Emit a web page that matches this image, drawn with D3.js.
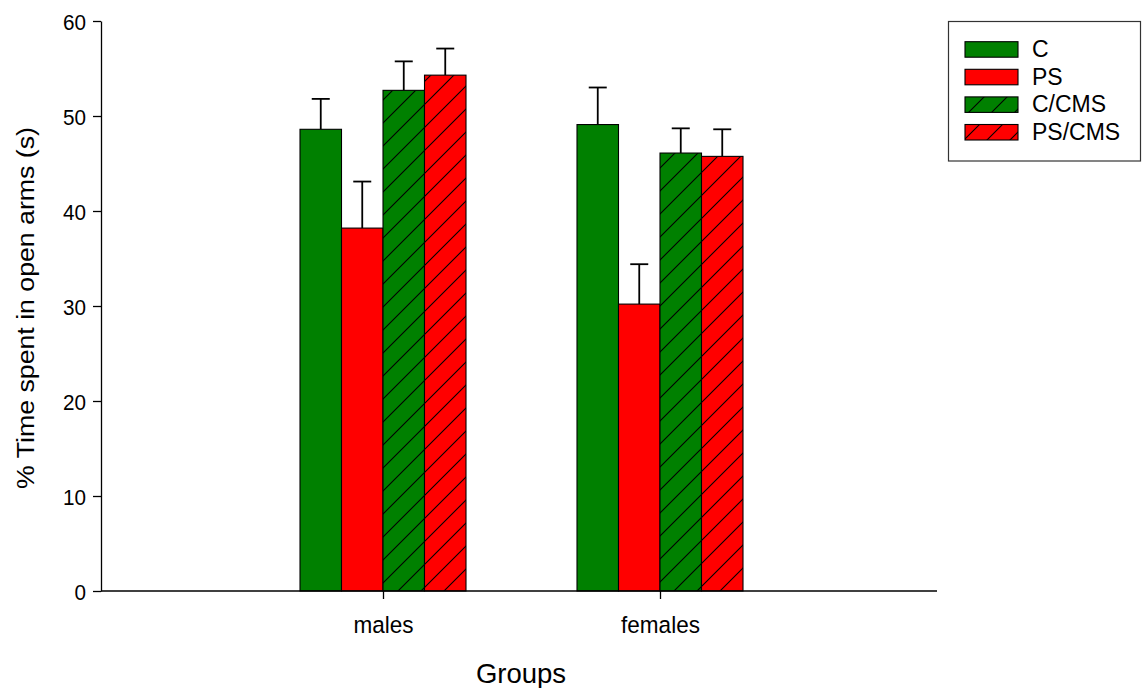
<!DOCTYPE html>
<html>
<head>
<meta charset="utf-8">
<script src="https://cdn.jsdelivr.net/npm/d3@7"></script>
<style>
  html, body { margin: 0; padding: 0; background: #fff; }
  svg { display: block; }
  text { font-family: "Liberation Sans", Arial, sans-serif; fill: #000; }
</style>
</head>
<body>
<svg id="chart" width="1142" height="688"></svg>
<script>
// Groups on the x axis
const groups = ["males", "females"];
// Treatment series
const seriesNames = ["C", "PS", "C/CMS", "PS/CMS"];
// Mean % time spent in open arms per series (males, females)
const valuesC = [48.6, 49.1];
const valuesPS = [38.2, 30.2];
const valuesCCMS = [52.7, 46.1];
const valuesPSCMS = [54.3, 45.75];
// Error (upper whisker length) per series
const errC = [3.2, 3.9];
const errPS = [4.9, 4.2];
const errCCMS = [3.05, 2.6];
const errPSCMS = [2.8, 2.85];
// Y axis ticks
const yTicks = [0, 10, 20, 30, 40, 50, 60];

const seriesValues = [valuesC, valuesPS, valuesCCMS, valuesPSCMS];
const seriesErrors = [errC, errPS, errCCMS, errPSCMS];
const seriesFill = ["#008000", "#ff0000", "#008000", "#ff0000"];
const seriesHatch = [false, false, true, true];

const svg = d3.select("#chart");

// Hatch patterns ("/" diagonals) over green and red
const defs = svg.append("defs");
[["hatch-green", "#008000"], ["hatch-red", "#ff0000"]].forEach(([id, col]) => {
  const s = 23;
  const p = defs.append("pattern")
    .attr("id", id)
    .attr("patternUnits", "userSpaceOnUse")
    .attr("width", s).attr("height", s);
  p.append("rect").attr("width", s).attr("height", s).attr("fill", col);
  p.append("path")
    .attr("d", `M0,${s} L${s},0 M${-s/2},${s/2} L${s/2},${-s/2} M${s/2},${s*1.5} L${s*1.5},${s/2}`)
    .attr("stroke", "#000").attr("stroke-width", 1.1);
});
const fillFor = i => seriesHatch[i]
  ? (seriesFill[i] === "#008000" ? "url(#hatch-green)" : "url(#hatch-red)")
  : seriesFill[i];

// Scales
const x = d3.scalePoint().domain(groups).range([106, 937]).padding(1);
const xInner = d3.scaleBand().domain(seriesNames).range([-83, 83]).padding(0);
const y = d3.scaleLinear().domain([0, 60]).range([591, 21]);

// Bars
const barData = [];
groups.forEach((g, gi) => {
  seriesNames.forEach((s, si) => {
    barData.push({ g, s, si, v: seriesValues[si][gi], e: seriesErrors[si][gi] });
  });
});

const plot = svg.append("g");

// Error bars (drawn beneath bars, only upper whisker visible)
plot.selectAll("g.err").data(barData).join("g").attr("class", "err")
  .each(function(d) {
    const cx = x(d.g) + xInner(d.s) + xInner.bandwidth() / 2;
    const g = d3.select(this);
    g.append("line")
      .attr("x1", cx).attr("x2", cx)
      .attr("y1", y(d.v)).attr("y2", y(d.v + d.e))
      .attr("stroke", "#000").attr("stroke-width", 1.8);
    g.append("line")
      .attr("x1", cx - 9).attr("x2", cx + 9)
      .attr("y1", y(d.v + d.e)).attr("y2", y(d.v + d.e))
      .attr("stroke", "#000").attr("stroke-width", 1.8);
  });

plot.selectAll("rect.bar").data(barData).join("rect").attr("class", "bar")
  .attr("x", d => x(d.g) + xInner(d.s))
  .attr("y", d => y(d.v))
  .attr("width", xInner.bandwidth())
  .attr("height", d => y(0) - y(d.v))
  .attr("fill", d => fillFor(d.si))
  .attr("stroke", "#000").attr("stroke-width", 1.1);

// Y axis
const yAxis = d3.axisLeft(y).tickValues(yTicks).tickSize(8).tickSizeOuter(0).tickPadding(7);
const gy = svg.append("g").attr("transform", "translate(101,0)").call(yAxis);
gy.select(".domain").attr("stroke", "#000").attr("stroke-width", 1.3);
gy.selectAll(".tick line").attr("stroke", "#000").attr("stroke-width", 1.3);
gy.selectAll(".tick text")
  .attr("font-size", 22.5)
  .attr("font-family", "Liberation Sans, Arial, sans-serif")
  .attr("fill", "#000")
  .attr("dy", "0.36em")
  .attr("x", 0)
  .attr("transform", "translate(-15,0) scale(0.92,1)");

// X axis
const xAxis = d3.axisBottom(x).tickSize(8).tickSizeOuter(0).tickPadding(16);
const gx = svg.append("g").attr("transform", "translate(0,591)").call(xAxis);
gx.select(".domain").remove();
gx.append("line").attr("x1", 101).attr("x2", 937).attr("y1", 0).attr("y2", 0)
  .attr("stroke", "#000").attr("stroke-width", 1.3);
gx.selectAll(".tick line").attr("stroke", "#000").attr("stroke-width", 1.3);
gx.selectAll(".tick text")
  .attr("font-size", 24.5)
  .attr("font-family", "Liberation Sans, Arial, sans-serif")
  .attr("fill", "#000")
  .attr("y", 0).attr("dy", 0)
  .attr("transform", "translate(0,42) scale(0.92,1)");

// Axis titles
svg.append("text")
  .attr("transform", "translate(521,683)")
  .attr("text-anchor", "middle")
  .attr("font-size", 27.5)
  .text("Groups");

svg.append("text")
  .attr("transform", "translate(34,308) rotate(-90) scale(1,0.92)")
  .attr("text-anchor", "middle")
  .attr("font-size", 26.7)
  .text("% Time spent in open arms (s)");

// Legend
const legend = svg.append("g");
legend.append("rect")
  .attr("x", 948.5).attr("y", 21.5).attr("width", 192).attr("height", 139.5)
  .attr("fill", "#fff").attr("stroke", "#333").attr("stroke-width", 1.2);
seriesNames.forEach((name, i) => {
  const top = 41.7 + i * 27.6;
  legend.append("rect")
    .attr("x", 965).attr("y", top).attr("width", 53).attr("height", 15.5)
    .attr("fill", fillFor(i)).attr("stroke", "#000").attr("stroke-width", 1.1);
  legend.append("text")
    .attr("x", 1032).attr("y", top + 15.5)
    .attr("font-size", 23)
    .text(name);
});
</script>
</body>
</html>
